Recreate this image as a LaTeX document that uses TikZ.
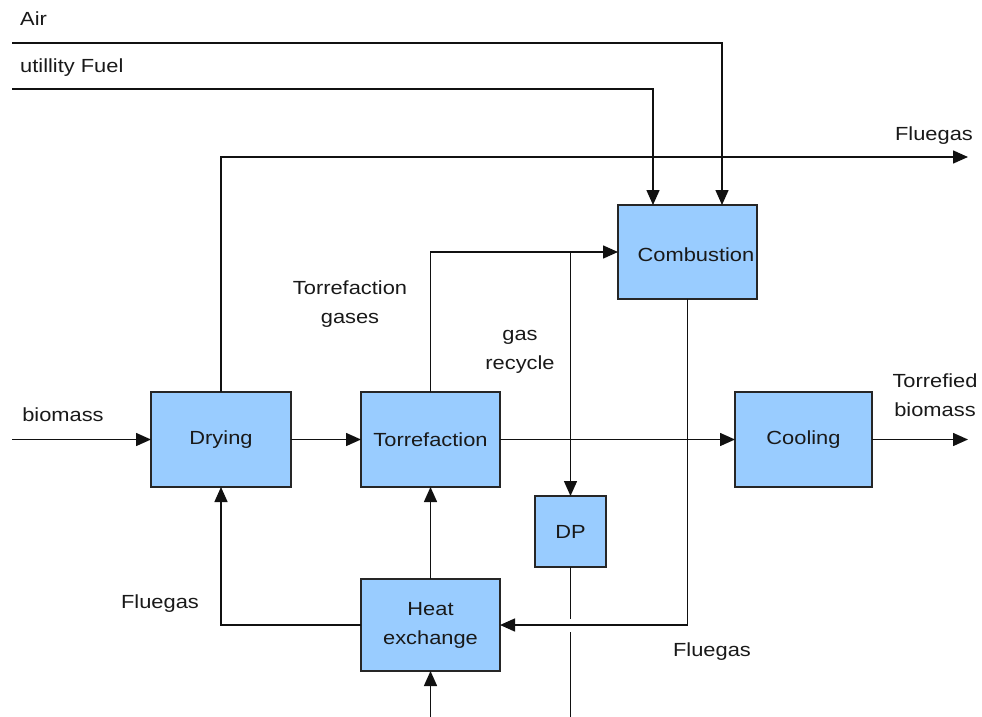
\documentclass[tikz,border=0pt]{standalone}
\usepackage{fontspec}
\setmainfont{Liberation Sans}[FakeStretch=1.15]
\usetikzlibrary{arrows.meta}
\definecolor{boxfill}{HTML}{99CCFF}
\definecolor{linec}{HTML}{111111}
\begin{document}
\begin{tikzpicture}[x=1pt,y=-1pt,
  every node/.style={font=\fontsize{19}{29}\selectfont, text=black!90},
  box/.style={draw=black!85, fill=boxfill, line width=1.4pt, inner sep=2pt, outer sep=0pt, align=center},
  conn/.style={draw=linec, line width=1.5pt},
  arr/.style={conn, -{Triangle[length=15pt,width=13pt]}},
  lbl/.style={align=center, inner sep=0pt}]
\useasboundingbox (0,0) rectangle (982,717);
% boxes
\node[box, minimum width=140, minimum height=95] (dry) at (221,439.5) {Drying};
\node[box, minimum width=139, minimum height=95] (tor) at (430.5,439.5) {Torrefaction};
\node[box, minimum width=137, minimum height=95] (cool) at (803.5,439.5) {Cooling};
\node[box, minimum width=139, minimum height=94] (comb) at (687.5,252) {};
\node[lbl] (combt) at (696,255) {Combustion};
\node[box, minimum width=71, minimum height=71] (dp) at (570.5,531.5) {DP};
\node[box, minimum width=139, minimum height=92] (heat) at (430.5,625) {Heat\\exchange};
% free ends
\coordinate (airS) at (12,43);
\coordinate (fuelS) at (12,89);
\coordinate (fgE) at (968,157);
\coordinate (bioS) at (12,439.5);
\coordinate (tbE) at (968,439.5);
\coordinate (grT) at (570.5,252);
\coordinate (botS) at (430.5,717);
\coordinate (dpG1) at (570.5,619);
\coordinate (dpG2) at (570.5,632);
\coordinate (dpE) at (570.5,717);
% connectors
\draw[arr] (airS) -| ([xshift=34.5]comb.north);
\draw[arr] (fuelS) -| ([xshift=-34.5]comb.north);
\draw[arr] (dry.north) |- (fgE);
\draw[arr] (tor.north) |- (comb.west);
\draw[arr] (grT) -- (dp.north);
\draw[arr] (bioS) -- (dry.west);
\draw[arr] (dry.east) -- (tor.west);
\draw[arr] (tor.east) -- (cool.west);
\draw[arr] (cool.east) -- (tbE);
\draw[arr] (comb.south) |- (heat.east);
\draw[arr] (heat.north) -- (tor.south);
\draw[arr] (heat.west) -| (dry.south);
\draw[arr] (botS) -- (heat.south);
\draw[conn] (dp.south) -- (dpG1);
\draw[conn] (dpG2) -- (dpE);
% labels
\node[lbl, anchor=west] (lair) at (20,19) {Air};
\node[lbl, anchor=west] (lfuel) at (20,67.5) {utillity Fuel};
\node[lbl] (lfg1) at (934,136) {Fluegas};
\node[lbl] (ltg) at (350,304) {Torrefaction\\gases};
\node[lbl] (lgr) at (520,351.5) {gas\\recycle};
\node[lbl] (lbio) at (63,414.5) {biomass};
\node[lbl] (ltb) at (935,395.5) {Torrefied\\biomass};
\node[lbl] (lfg2) at (160,603.5) {Fluegas};
\node[lbl] (lfg3) at (712,651.5) {Fluegas};
\end{tikzpicture}
\end{document}
